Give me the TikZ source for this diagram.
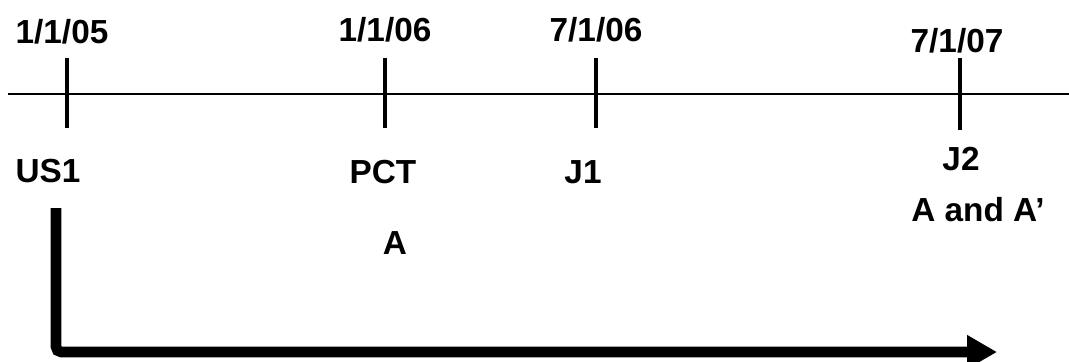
\documentclass[tikz,border=0pt]{standalone}
\usepackage{fontspec}
\setmainfont{Liberation Sans}
\usetikzlibrary{arrows.meta}

\begin{document}
\begin{tikzpicture}[
    x=0.75pt, y=-0.75pt,
    date/.style={inner sep=0pt, font=\fontsize{25}{30}\selectfont\bfseries},
    label/.style={inner sep=0pt, font=\fontsize{25}{30}\selectfont\bfseries},
    tick/.style={line width=2.4pt},
    axis/.style={line width=2pt},
    period/.style={line width=8pt, rounded corners=4pt, -{Triangle[length=22.5pt,width=24pt]}}
]
\useasboundingbox (0,0) rectangle (1069,361);

% Linea del tempo
\coordinate (left) at (8,94);
\coordinate (right) at (1069,94);
\draw[axis] (left) -- (right);

% Tacche
\coordinate (t1top) at (67,58);  \coordinate (t1bot) at (67,128);
\coordinate (t2top) at (385,58); \coordinate (t2bot) at (385,128);
\coordinate (t3top) at (596,58); \coordinate (t3bot) at (596,128);
\coordinate (t4top) at (960,58); \coordinate (t4bot) at (960,130);
\draw[tick] (t1top) -- (t1bot);
\draw[tick] (t2top) -- (t2bot);
\draw[tick] (t3top) -- (t3bot);
\draw[tick] (t4top) -- (t4bot);

% Date
\node[date] (d1) at (62,32) {1/1/05};
\node[date] (d2) at (385,30) {1/1/06};
\node[date] (d3) at (596,30) {7/1/06};
\node[date] (d4) at (957,41) {7/1/07};

% Etichette
\node[label] (us1) at (48,171) {US1};
\node[label] (pct) at (383,172) {PCT};
\node[label] (j1) at (583,172) {J1};
\node[label] (j2) at (961,159) {J2};
\node[label] (a) at (395,243) {A};
\node[label] (aa) at (978,210) {A and A'};

% Freccia
\coordinate (start) at (56,208);
\coordinate (corner) at (56,352);
\coordinate (stop) at (997,352);
\draw[period] (start) -- (corner) -- (stop);

\end{tikzpicture}
\end{document}
